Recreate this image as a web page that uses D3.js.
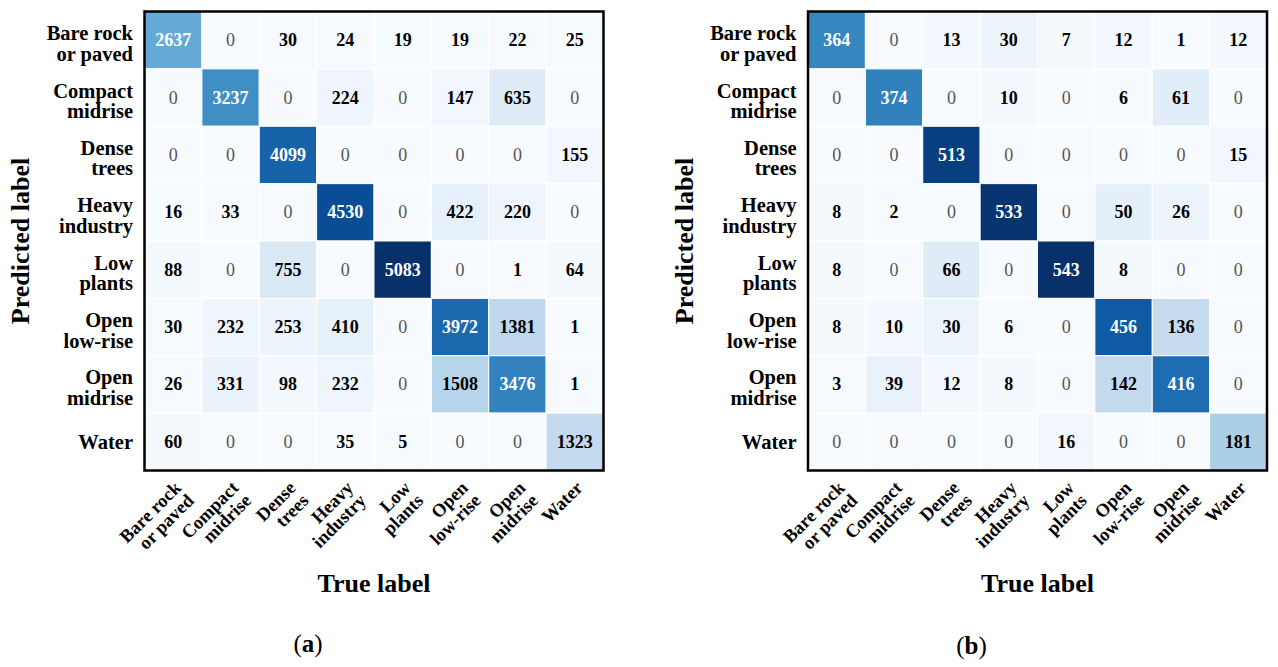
<!DOCTYPE html>
<html><head><meta charset="utf-8">
<script src="https://cdn.jsdelivr.net/npm/d3@7"></script>
<style>body{margin:0;background:#fff} svg{display:block} text{font-family:"Liberation Serif","Times New Roman",Times,"DejaVu Serif",serif}</style>
</head><body><svg id="c" width="1278" height="667"></svg>
<script>
// ---- data ----
const categories = [["Bare rock","or paved"],["Compact","midrise"],["Dense","trees"],["Heavy","industry"],["Low","plants"],["Open","low-rise"],["Open","midrise"],["Water"]];
// rows = predicted label, columns = true label
const matrixA = [
  [2637,0,30,24,19,19,22,25],
  [0,3237,0,224,0,147,635,0],
  [0,0,4099,0,0,0,0,155],
  [16,33,0,4530,0,422,220,0],
  [88,0,755,0,5083,0,1,64],
  [30,232,253,410,0,3972,1381,1],
  [26,331,98,232,0,1508,3476,1],
  [60,0,0,35,5,0,0,1323]
];
const matrixB = [
  [364,0,13,30,7,12,1,12],
  [0,374,0,10,0,6,61,0],
  [0,0,513,0,0,0,0,15],
  [8,2,0,533,0,50,26,0],
  [8,0,66,0,543,8,0,0],
  [8,10,30,6,0,456,136,0],
  [3,39,12,8,0,142,416,0],
  [0,0,0,0,16,0,0,181]
];
const panelLetters = ["a","b"];
const xTitle = "True label";
const yTitle = "Predicted label";
const bluesScheme = ["#f7fbff","#deebf7","#c6dbef","#9ecae1","#6baed6","#4292c6","#2171b5","#08519c","#08306b"];

// ---- drawing ----
const svg = d3.select("#c");
const panels = [
  {m: matrixA, x0: 144.5, titleX: 29, letter: panelLetters[0], letterY: 652},
  {m: matrixB, x0: 808, titleX: 693, letter: panelLetters[1], letterY: 654}
];
const SIZE = 459, Y0 = 11.5;

panels.forEach(p => {
  const g = svg.append("g");
  const idx = d3.range(categories.length);
  const x = d3.scaleBand().domain(idx).range([p.x0, p.x0 + SIZE]);
  const y = d3.scaleBand().domain(idx).range([Y0, Y0 + SIZE]);
  const flat = p.m.flat();
  const mx = d3.max(flat), mn = d3.min(flat);
  const color = d3.scaleLinear()
    .domain(bluesScheme.map((_, i) => mn + (mx - mn) * i / (bluesScheme.length - 1)))
    .range(bluesScheme).interpolate(d3.interpolateRgb).clamp(true);
  const thresh = (mx + mn) / 2;

  const cells = [];
  p.m.forEach((row, i) => row.forEach((v, j) => cells.push({i, j, v})));

  g.selectAll("rect.cell").data(cells).join("rect")
    .attr("class", "cell")
    .attr("x", d => x(d.j)).attr("y", d => y(d.i))
    .attr("width", x.bandwidth()).attr("height", y.bandwidth())
    .attr("fill", d => color(d.v))
    .attr("stroke", "#fff").attr("stroke-width", 1);

  g.selectAll("text.val").data(cells).join("text")
    .attr("class", "val")
    .attr("x", d => x(d.j) + x.bandwidth() / 2)
    .attr("y", d => y(d.i) + y.bandwidth() / 2 + 6)
    .attr("text-anchor", "middle")
    .style("font-size", "18px")
    .style("font-weight", d => d.v === 0 ? "normal" : "bold")
    .attr("fill", d => d.v === 0 ? "#555" : (d.v > thresh ? "#fff" : "#000"))
    .text(d => d.v);

  g.append("rect")
    .attr("x", p.x0).attr("y", Y0).attr("width", SIZE).attr("height", SIZE)
    .attr("fill", "none").attr("stroke", "#000").attr("stroke-width", 2.5);

  // y tick labels
  categories.forEach((lines, i) => {
    const cy = y(i) + y.bandwidth() / 2;
    const t = g.append("text")
      .attr("text-anchor", "end")
      .style("font-size", "20.5px").style("font-weight", "bold");
    lines.forEach((ln, k) => {
      t.append("tspan").attr("x", p.x0 - 11.5)
        .attr("y", lines.length === 1 ? cy + 7 : cy + k * 20.5)
        .text(ln);
    });
  });

  // x tick labels
  categories.forEach((lines, j) => {
    const cx = x(j) + x.bandwidth() / 2;
    const t = g.append("text")
      .attr("transform", `translate(${cx + 9},489) rotate(-45)`)
      .attr("text-anchor", "end")
      .style("font-size", "18.5px").style("font-weight", "bold");
    lines.forEach((ln, k) => {
      t.append("tspan").attr("x", 0).attr("y", k * 18).text(ln);
    });
  });

  // axis titles
  g.append("text")
    .attr("x", p.x0 + SIZE / 2).attr("y", 592)
    .attr("text-anchor", "middle")
    .style("font-size", "26px").style("font-weight", "bold")
    .text(xTitle);
  g.append("text")
    .attr("transform", `translate(${p.titleX},${Y0 + SIZE / 2}) rotate(-90)`)
    .attr("text-anchor", "middle")
    .style("font-size", "26px").style("font-weight", "bold")
    .text(yTitle);

  // panel letter
  const lt = g.append("text")
    .attr("x", p.x0 + SIZE / 2 - 66).attr("y", p.letterY)
    .attr("text-anchor", "middle")
    .style("font-size", "25px");
  lt.append("tspan").text("(");
  lt.append("tspan").style("font-weight", "bold").text(p.letter);
  lt.append("tspan").text(")");
});
</script>
</body></html>
